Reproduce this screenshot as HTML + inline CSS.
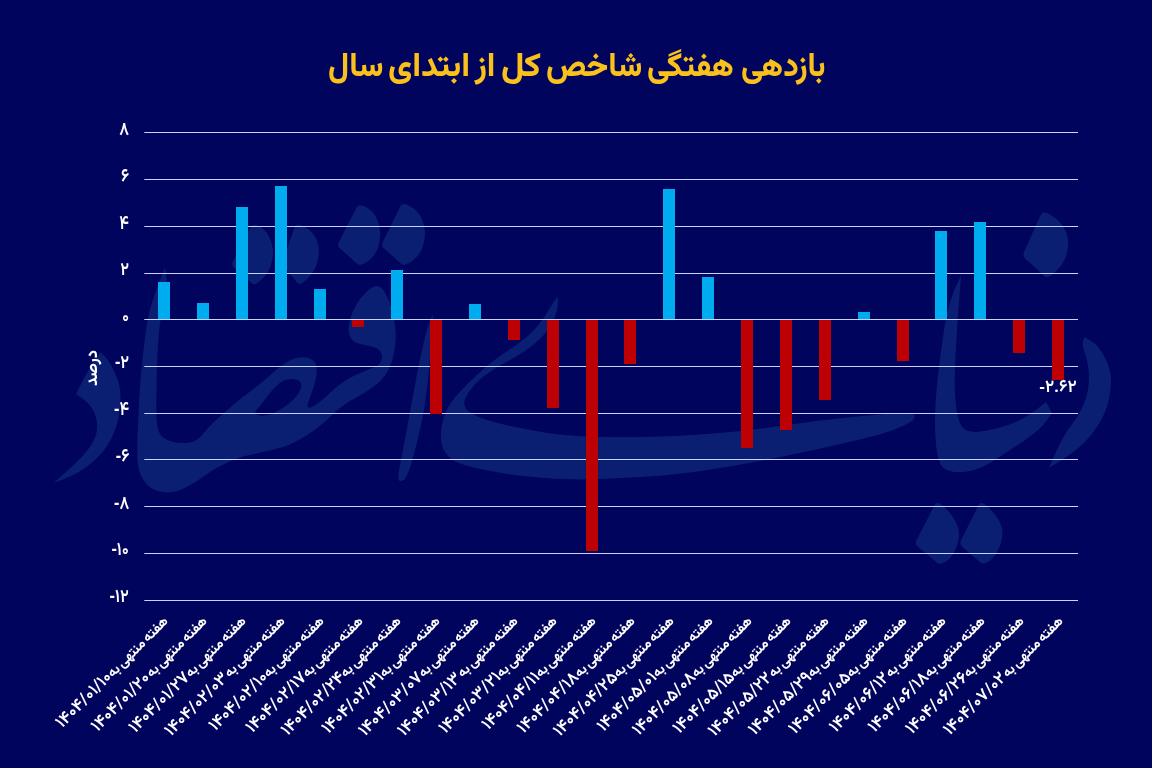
<!DOCTYPE html>
<html lang="fa"><head><meta charset="utf-8">
<style>
html,body{margin:0;padding:0}
body{width:1152px;height:768px;overflow:hidden;background:#00045c;position:relative;font-family:"Vazirmatn","DejaVu Sans",sans-serif;color:#fff}
#title{position:absolute;left:0;top:51.5px;width:1152px;height:40px;color:#fac01c;font-weight:800;font-size:33px;line-height:1}
.tw{position:absolute;top:0;direction:rtl;white-space:nowrap;transform-origin:0 0}
svg{position:absolute;left:0;top:0}
.f{display:inline-block}
.yl{position:absolute;right:1023px;direction:ltr;font-size:18.5px;font-weight:600;line-height:0;white-space:nowrap;transform-origin:100% 0;transform:scaleX(0.88)}
.xl .d{font-size:1.23em;font-weight:600}
.xl .sp{word-spacing:-2.5px}
.xl{position:absolute;width:300px;text-align:right;direction:rtl;font-size:14px;font-weight:700;word-spacing:-1.5px;line-height:0;white-space:nowrap;transform-origin:100% 0;transform:rotate(-45deg)}
#ytitle{position:absolute;left:92.5px;top:367.5px;font-size:16.5px;font-weight:700;direction:rtl;white-space:nowrap;line-height:0;transform:translate(-50%,0) rotate(-90deg)}
.mn{font-family:'Liberation Sans',sans-serif;font-weight:700}
#dl{position:absolute;left:1058px;top:387.4px;transform:translateX(-50%);font-size:17px;font-weight:600;line-height:0;direction:ltr;white-space:nowrap}
</style></head><body>
<div id="title"><div class="tw" style="left:740.97px;transform:scaleX(0.933)"><span class="f">بازدهی</span></div><div class="tw" style="left:647.05px;transform:scaleX(0.9528)"><span class="f">هفتگی</span></div><div class="tw" style="left:546.04px;transform:scaleX(0.9592)"><span class="f">شاخص</span></div><div class="tw" style="left:500.83px;transform:scaleX(1.0667)"><span class="f">کل</span></div><div class="tw" style="left:475.38px;transform:scaleX(0.98)"><span class="f">از</span></div><div class="tw" style="left:387.89px;transform:scaleX(1.0077)"><span class="f">ابتدای</span></div><div class="tw" style="left:328.04px;transform:scaleX(0.9636)"><span class="f">سال</span></div></div>
<svg width="1152" height="768" viewBox="0 0 1152 768">
<g fill="#0b1f72"><path d="M1040.6,214.9Q1042.6,210.3 1050.3,214.7Q1058.0,219.0 1062.5,225.5Q1067.0,232.0 1068.0,239.5Q1069.0,247.0 1066.0,256.0Q1063.0,265.0 1055.3,272.0Q1047.7,279.0 1044.9,276.5Q1042.1,273.9 1035.0,267.5Q1027.9,261.1 1025.1,258.5Q1022.3,256.0 1024.3,251.4Q1026.4,246.9 1032.4,233.2Q1038.5,219.4 1040.6,214.9Z"/><path d="M1084.8,337.3L1091.2,340.9Q1097.7,344.5 1103.3,354.6Q1109.0,364.6 1110.5,374.6Q1112.0,384.6 1109.0,399.0Q1106.0,413.3 1097.5,426.1Q1089.0,439.0 1079.0,447.5Q1069.0,456.0 1049.0,467.7L1049.0,467.7L1056.0,451.9Q1063.0,436.0 1071.8,424.6Q1080.5,413.3 1084.8,401.6Q1089.0,390.0 1089.0,377.3Q1089.0,364.6 1084.8,353.1Q1080.5,341.6 1084.8,337.3Z"/><path d="M961.0,275.7L959.0,301.4Q957.0,327.0 955.5,355.8Q954.0,384.6 955.5,401.8Q957.0,419.0 961.5,426.0Q966.0,433.0 978.8,431.8Q991.6,430.5 1008.8,424.8Q1026.0,419.0 1046.0,402.0L1046.0,402.0L1052.0,413.0L1046.0,421.5Q1040.0,430.0 1023.0,441.5Q1006.0,453.0 991.5,462.0Q977.0,471.0 963.5,472.0Q950.0,473.0 943.5,468.0Q937.0,463.0 935.5,438.0Q934.0,413.0 937.0,384.5Q940.0,356.0 944.4,327.4Q948.7,298.7 961.0,275.7Z"/><path d="M934.7,504.8Q936.9,500.5 944.0,506.8Q951.0,513.0 955.2,520.9Q959.5,528.7 959.0,536.4Q958.4,544.0 954.7,551.2Q951.0,558.5 945.4,561.8Q939.8,565.0 937.0,562.7Q934.3,560.4 927.2,554.5Q920.1,548.5 917.4,546.2Q914.6,543.9 916.8,539.6Q919.1,535.2 925.8,522.2Q932.4,509.2 934.7,504.8Z"/><path d="M978.7,504.8Q980.9,500.5 987.7,506.8Q994.5,513.0 998.8,520.2Q1003.0,527.5 1002.4,535.2Q1001.8,543.0 998.1,550.2Q994.5,557.5 988.9,561.2Q983.2,565.0 980.6,562.7Q977.9,560.4 971.2,554.5Q964.5,548.5 961.8,546.2Q959.2,543.9 961.4,539.6Q963.5,535.2 970.0,522.2Q976.6,509.2 978.7,504.8Z"/><path d="M557.4,296.5L553.8,301.9Q550.2,307.2 545.9,314.4Q541.6,321.5 535.9,327.9Q530.2,334.4 521.6,340.9Q513.0,347.3 502.2,354.5Q491.5,361.7 482.9,369.5Q474.3,377.4 468.2,383.2Q462.2,389.0 455.9,396.2Q449.7,403.4 446.5,410.4Q443.4,417.5 441.9,425.2Q440.3,433.0 441.1,440.5Q442.0,448.0 446.0,453.5Q450.0,459.0 457.6,462.5Q465.1,466.0 487.7,470.4Q510.3,474.8 532.9,477.1Q555.4,479.3 578.0,479.4Q600.5,479.5 640.2,477.1Q680.0,474.8 713.9,469.1Q747.7,463.5 781.5,456.8Q815.4,450.0 849.2,442.1Q883.0,434.2 894.4,429.6Q905.7,425.1 910.4,422.1Q915.0,419.0 914.5,415.8Q914.0,412.5 898.5,413.2Q883.0,413.9 849.2,417.2Q815.4,420.6 781.5,425.7Q747.7,430.8 713.9,433.6Q680.0,436.4 640.2,436.9Q600.5,437.5 578.0,435.9Q555.4,434.2 547.7,432.9Q540.0,431.6 523.0,428.5Q506.0,425.3 494.2,422.1Q482.5,419.0 474.7,415.1Q466.9,411.2 465.3,407.6Q463.8,404.0 464.5,400.6Q465.3,397.2 468.5,392.5Q471.6,387.8 476.8,382.4Q482.0,377.0 490.4,371.5Q498.7,366.0 508.0,361.0Q517.3,356.0 525.9,350.2Q534.5,344.5 541.0,338.1Q547.4,331.6 551.7,323.7Q556.0,315.8 557.2,308.9Q558.5,302.0 557.4,296.5Z"/><path d="M433.0,314.4L430.1,354.5Q427.3,394.6 422.6,417.3Q418.0,440.0 412.6,458.9Q407.2,477.7 403.6,479.9Q400.0,482.0 398.6,480.0Q397.2,478.0 401.1,459.0Q405.0,440.0 409.0,417.3Q413.0,394.6 420.1,358.8Q427.3,323.0 433.0,314.4Z"/><path d="M356.7,207.3Q358.9,203.1 365.9,207.1Q373.0,211.0 376.5,218.0Q380.0,225.0 380.2,232.5Q380.5,240.0 377.8,248.2Q375.0,256.5 367.5,261.4Q360.0,266.3 357.5,264.0Q354.9,261.7 348.5,255.9Q342.1,250.2 339.5,247.9Q337.0,245.6 339.2,241.3Q341.4,237.1 347.9,224.3Q354.5,211.6 356.7,207.3Z"/><path d="M400.4,206.3Q402.6,201.9 409.8,205.9Q417.0,210.0 420.8,217.0Q424.5,224.0 425.0,232.0Q425.5,240.0 422.2,248.2Q419.0,256.5 411.5,261.4Q404.0,266.3 401.5,264.0Q398.9,261.7 392.5,255.9Q386.1,250.2 383.5,247.9Q381.0,245.6 383.2,241.2Q385.3,236.9 391.8,223.8Q398.3,210.6 400.4,206.3Z"/><path d="M250.6,227.1Q252.8,222.9 258.9,225.9Q265.0,229.0 268.5,235.5Q272.0,242.0 272.8,249.0Q273.5,256.0 271.2,264.2Q269.0,272.5 262.0,279.2Q255.0,286.0 252.4,283.7Q249.7,281.4 243.0,275.5Q236.3,269.6 233.6,267.3Q231.0,265.0 233.2,260.8Q235.4,256.6 241.9,243.9Q248.4,231.3 250.6,227.1Z"/><path d="M294.6,227.0Q296.0,222.9 303.0,225.9Q310.0,229.0 314.0,235.0Q318.0,241.0 318.7,248.0Q319.4,255.0 317.0,263.2Q314.7,271.5 307.4,278.8Q300.0,286.0 298.0,283.6Q296.0,281.2 291.0,275.0Q286.0,268.8 284.0,266.4Q282.0,264.0 283.4,259.9Q284.8,255.8 289.0,243.4Q293.2,231.1 294.6,227.0Z"/><path fill-rule="evenodd" d="M165.0,267.5L166.0,273.8Q167.0,280.0 166.0,287.5Q165.0,295.0 163.0,305.0Q161.0,315.0 159.5,327.5Q158.0,340.0 157.2,360.0Q156.5,380.0 156.4,395.0Q156.2,410.0 156.6,419.0Q157.0,428.0 159.5,433.0Q162.0,438.0 168.5,440.5Q175.0,443.0 182.5,443.0Q190.0,443.0 194.5,441.0Q199.0,439.0 203.8,433.0Q208.6,427.0 213.4,422.5Q218.2,418.0 227.8,409.5Q237.3,401.0 248.8,392.5Q260.2,384.0 269.8,375.4Q279.3,366.7 287.0,361.9Q294.6,357.2 302.2,357.2Q309.9,357.2 313.7,361.0Q317.5,364.8 316.6,373.4Q315.6,382.0 312.8,389.5Q310.0,397.0 308.0,403.5Q306.0,410.0 312.7,406.5Q319.4,403.0 326.1,396.4Q332.8,389.7 340.4,383.9Q348.0,378.2 354.7,375.4Q361.4,372.5 366.7,370.2Q372.0,368.0 376.0,366.5Q380.0,365.0 381.5,360.0Q383.0,355.0 380.5,351.5Q378.0,348.0 371.5,346.5Q365.0,345.0 358.5,343.5Q352.0,342.0 349.6,335.3Q347.3,328.6 350.9,316.9Q354.4,305.2 363.8,294.6Q373.1,284.0 379.0,286.4Q384.8,288.7 389.5,302.8Q394.2,316.9 395.4,328.6Q396.6,340.3 394.2,352.0Q391.9,363.7 387.2,371.9Q382.5,380.1 373.8,386.6Q365.0,393.0 353.6,399.0Q342.3,405.0 332.8,414.5Q323.2,424.0 313.6,430.7Q304.1,437.4 294.6,442.2Q285.0,447.0 270.7,450.3Q256.4,453.6 248.2,455.3Q240.0,457.0 228.5,461.9Q217.0,466.7 206.5,474.5Q196.0,482.3 185.7,487.5Q175.4,492.7 166.7,492.4Q158.0,492.0 152.0,488.5Q146.0,485.0 142.0,477.5Q138.0,470.0 137.5,460.0Q137.0,450.0 137.8,430.0Q138.5,410.0 139.8,390.0Q141.0,370.0 143.2,352.5Q145.3,335.0 146.6,326.2Q147.9,317.5 150.4,308.1Q153.0,298.8 156.2,290.4Q159.4,282.0 165.0,267.5ZM259.3,415.4Q252.6,414.5 257.4,408.8Q262.1,403.0 268.8,394.4Q275.5,385.8 281.2,382.0Q287.0,378.2 293.6,379.1Q300.3,380.1 301.2,383.9Q302.2,387.7 298.4,393.4Q294.6,399.2 287.0,404.9Q279.3,410.7 272.6,413.5Q266.0,416.4 259.3,415.4Z"/><path d="M100.3,352.0L104.8,356.5Q109.2,361.0 113.6,369.9Q118.0,378.7 119.7,387.5Q121.3,396.4 120.2,407.4Q119.1,418.5 115.2,429.6Q111.4,440.6 103.7,450.6Q95.9,460.5 84.8,468.2Q73.8,476.0 53.8,482.7L53.8,482.7L62.6,474.9Q71.5,467.2 80.3,458.4Q89.2,449.5 93.7,440.6Q98.1,431.8 97.0,422.9Q95.9,414.0 91.5,407.4Q87.0,400.8 76.0,394.2L76.0,394.2L79.3,387.5Q82.6,380.9 87.0,373.1Q91.5,365.4 100.3,352.0Z"/></g>
<rect x="144.3" y="132" width="933.7" height="1" fill="#cad2ff"/>
<rect x="144.3" y="179" width="933.7" height="1" fill="#cad2ff"/>
<rect x="144.3" y="226" width="933.7" height="1" fill="#cad2ff"/>
<rect x="144.3" y="273" width="933.7" height="1" fill="#cad2ff"/>
<rect x="144.3" y="319" width="933.7" height="1" fill="#cad2ff"/>
<rect x="144.3" y="366" width="933.7" height="1" fill="#cad2ff"/>
<rect x="144.3" y="413" width="933.7" height="1" fill="#cad2ff"/>
<rect x="144.3" y="459" width="933.7" height="1" fill="#cad2ff"/>
<rect x="144.3" y="506" width="933.7" height="1" fill="#cad2ff"/>
<rect x="144.3" y="553" width="933.7" height="1" fill="#cad2ff"/>
<rect x="144.3" y="600" width="933.7" height="1" fill="#cad2ff"/>
<rect x="158" y="282" width="12" height="37" fill="#00acf0"/>
<rect x="197" y="303" width="12" height="16" fill="#00acf0"/>
<rect x="236" y="207" width="12" height="112" fill="#00acf0"/>
<rect x="275" y="186" width="12" height="133" fill="#00acf0"/>
<rect x="314" y="289" width="12" height="30" fill="#00acf0"/>
<rect x="352" y="320" width="12" height="7" fill="#bd0003"/>
<rect x="391" y="270" width="12" height="49" fill="#00acf0"/>
<rect x="430" y="320" width="12" height="94" fill="#bd0003"/>
<rect x="469" y="304" width="12" height="15" fill="#00acf0"/>
<rect x="508" y="320" width="12" height="20" fill="#bd0003"/>
<rect x="547" y="320" width="12" height="88" fill="#bd0003"/>
<rect x="586" y="320" width="12" height="231" fill="#bd0003"/>
<rect x="624" y="320" width="12" height="44" fill="#bd0003"/>
<rect x="663" y="189" width="12" height="130" fill="#00acf0"/>
<rect x="702" y="277" width="12" height="42" fill="#00acf0"/>
<rect x="741" y="320" width="12" height="128" fill="#bd0003"/>
<rect x="780" y="320" width="12" height="110" fill="#bd0003"/>
<rect x="819" y="320" width="12" height="80" fill="#bd0003"/>
<rect x="858" y="312" width="12" height="7" fill="#00acf0"/>
<rect x="897" y="320" width="12" height="41" fill="#bd0003"/>
<rect x="935" y="231" width="12" height="88" fill="#00acf0"/>
<rect x="974" y="222" width="12" height="97" fill="#00acf0"/>
<rect x="1013" y="320" width="12" height="33" fill="#bd0003"/>
<rect x="1052" y="320" width="12" height="60" fill="#bd0003"/>
</svg>
<div class="yl" style="top:131.1px"><span class="f">۸</span></div>
<div class="yl" style="top:177.9px"><span class="f">۶</span></div>
<div class="yl" style="top:224.6px"><span class="f">۴</span></div>
<div class="yl" style="top:271.4px"><span class="f">۲</span></div>
<div class="yl" style="top:318.2px"><span class="f">۰</span></div>
<div class="yl" style="top:362.2px"><span class="f"><span class="mn">-</span>۲</span></div>
<div class="yl" style="top:409.0px"><span class="f"><span class="mn">-</span>۴</span></div>
<div class="yl" style="top:455.8px"><span class="f"><span class="mn">-</span>۶</span></div>
<div class="yl" style="top:502.6px"><span class="f"><span class="mn">-</span>۸</span></div>
<div class="yl" style="top:549.3px"><span class="f"><span class="mn">-</span>۱۰</span></div>
<div class="yl" style="top:596.1px"><span class="f"><span class="mn">-</span>۱۲</span></div>
<div id="ytitle"><span class="f">درصد</span></div>
<div class="xl" style="left:-134.0px;top:618.8px"><span class="f">هفته منتهی به<span class="d">۱۴۰۴/۰۱/۱۰</span></span></div>
<div class="xl" style="left:-95.1px;top:618.8px"><span class="f">هفته منتهی به<span class="sp"> </span><span class="d">۱۴۰۴/۰۱/۲۰</span></span></div>
<div class="xl" style="left:-56.2px;top:618.8px"><span class="f">هفته منتهی به<span class="d">۱۴۰۴/۰۱/۲۷</span></span></div>
<div class="xl" style="left:-17.3px;top:618.8px"><span class="f">هفته منتهی به<span class="sp"> </span><span class="d">۱۴۰۴/۰۲/۰۳</span></span></div>
<div class="xl" style="left:21.6px;top:618.8px"><span class="f">هفته منتهی به<span class="d">۱۴۰۴/۰۲/۱۰</span></span></div>
<div class="xl" style="left:60.5px;top:618.8px"><span class="f">هفته منتهی به<span class="d">۱۴۰۴/۰۲/۱۷</span></span></div>
<div class="xl" style="left:99.4px;top:618.8px"><span class="f">هفته منتهی به<span class="d">۱۴۰۴/۰۲/۲۴</span></span></div>
<div class="xl" style="left:138.3px;top:618.8px"><span class="f">هفته منتهی به<span class="d">۱۴۰۴/۰۲/۳۱</span></span></div>
<div class="xl" style="left:177.2px;top:618.8px"><span class="f">هفته منتهی به<span class="d">۱۴۰۴/۰۳/۰۷</span></span></div>
<div class="xl" style="left:216.1px;top:618.8px"><span class="f">هفته منتهی به<span class="sp"> </span><span class="d">۱۴۰۴/۰۳/۱۳</span></span></div>
<div class="xl" style="left:255.0px;top:618.8px"><span class="f">هفته منتهی به<span class="d">۱۴۰۴/۰۳/۲۱</span></span></div>
<div class="xl" style="left:293.9px;top:618.8px"><span class="f">هفته منتهی به<span class="d">۱۴۰۴/۰۴/۱۱</span></span></div>
<div class="xl" style="left:332.9px;top:618.8px"><span class="f">هفته منتهی به<span class="d">۱۴۰۴/۰۴/۱۸</span></span></div>
<div class="xl" style="left:371.8px;top:618.8px"><span class="f">هفته منتهی به<span class="d">۱۴۰۴/۰۴/۲۵</span></span></div>
<div class="xl" style="left:410.7px;top:618.8px"><span class="f">هفته منتهی به<span class="d">۱۴۰۴/۰۵/۰۱</span></span></div>
<div class="xl" style="left:449.6px;top:618.8px"><span class="f">هفته منتهی به<span class="d">۱۴۰۴/۰۵/۰۸</span></span></div>
<div class="xl" style="left:488.5px;top:618.8px"><span class="f">هفته منتهی به<span class="d">۱۴۰۴/۰۵/۱۵</span></span></div>
<div class="xl" style="left:527.4px;top:618.8px"><span class="f">هفته منتهی به<span class="sp"> </span><span class="d">۱۴۰۴/۰۵/۲۲</span></span></div>
<div class="xl" style="left:566.3px;top:618.8px"><span class="f">هفته منتهی به<span class="d">۱۴۰۴/۰۵/۲۹</span></span></div>
<div class="xl" style="left:605.2px;top:618.8px"><span class="f">هفته منتهی به<span class="d">۱۴۰۴/۰۶/۰۵</span></span></div>
<div class="xl" style="left:644.1px;top:618.8px"><span class="f">هفته منتهی به<span class="sp"> </span><span class="d">۱۴۰۴/۰۶/۱۲</span></span></div>
<div class="xl" style="left:683.0px;top:618.8px"><span class="f">هفته منتهی به<span class="d">۱۴۰۴/۰۶/۱۸</span></span></div>
<div class="xl" style="left:721.9px;top:618.8px"><span class="f">هفته منتهی به<span class="d">۱۴۰۴/۰۶/۲۶</span></span></div>
<div class="xl" style="left:760.8px;top:618.8px"><span class="f">هفته منتهی به<span class="sp"> </span><span class="d">۱۴۰۴/۰۷/۰۲</span></span></div>
<div id="dl"><span class="f"><span class="mn">-</span>۲.۶۲</span></div>
<script>
(function(){
try{
var W=[91,91,100,38,21,81,58,11,9,11,10,8,16,17,15,17,20,22,36,151,156,158,162,155,158,162,159,163,162,159,154,159,163,156,161,159,163,161,160,157,157,160,161,37];
var els=document.querySelectorAll('.f');
if(els.length!==W.length)return;
for(var i=0;i<els.length;i++){
var e=els[i],w=e.offsetWidth;
if(!w)continue;
var r=W[i]/w;
if(Math.abs(r-1)<0.02)continue;
r=Math.max(0.5,Math.min(1.5,r));
var c=e.parentNode.className;
var o=(c==='yl'||c==='xl')?'100% 50%':(c==='tw'?'0 50%':'50% 50%');
e.style.transformOrigin=o;
e.style.transform='scaleX('+r.toFixed(4)+')';
}
}catch(err){}
})();
</script>
</body></html>
